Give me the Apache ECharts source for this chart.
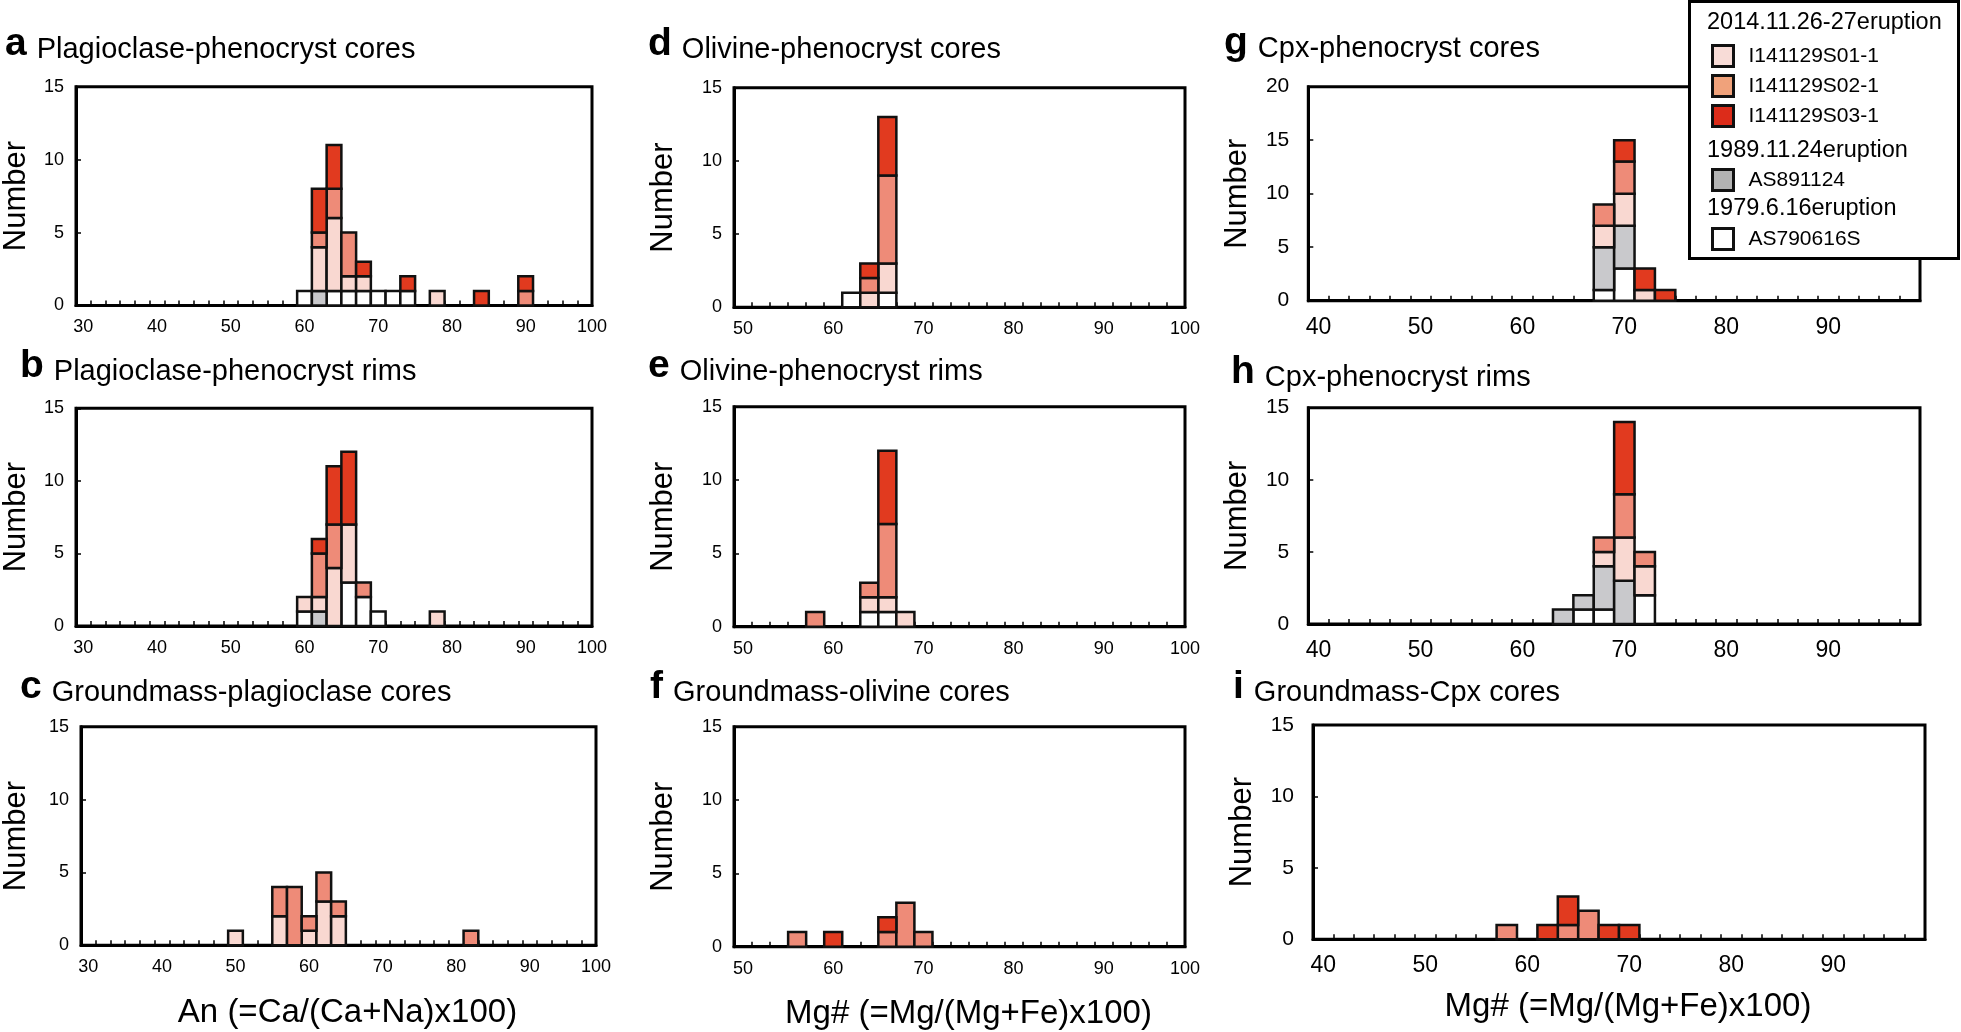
<!DOCTYPE html>
<html><head><meta charset="utf-8">
<script src="https://cdn.jsdelivr.net/npm/echarts@6/dist/echarts.min.js"></script>
<style>html,body{margin:0;padding:0;background:#fff}#c{width:1961px;height:1032px}</style>
</head><body><div id="c"></div><script>
const FONT = '"Liberation Sans", Helvetica, Arial, sans-serif';

// stacking order bottom -> top
const samples = ['AS790616S', 'AS891124', 'I141129S01-1', 'I141129S02-1', 'I141129S03-1'];
const sampleColors = ['#ffffff', '#c9c9cc', '#f9d8d1', '#ee8b78', '#e13a1f'];
const legendColors = ['#ffffff', '#b3b3b3', '#f8dcd7', '#f0a27b', '#dc2c1a'];
const BIN_WIDTH = 2;

// rows: [bin centre, AS790616S, AS891124, I141129S01-1, I141129S02-1, I141129S03-1]
const plagPhenoCores = [
  [60, 1, 0, 0, 0, 0], [62, 0, 1, 3, 1, 3], [64, 1, 0, 5, 2, 3], [66, 1, 0, 1, 3, 0],
  [68, 1, 0, 1, 0, 1], [70, 1, 0, 0, 0, 0], [72, 1, 0, 0, 0, 0], [74, 1, 0, 0, 0, 1],
  [78, 0, 0, 1, 0, 0], [84, 0, 0, 0, 0, 1], [90, 0, 0, 0, 1, 1]
];
const plagPhenoRims = [
  [60, 1, 0, 1, 0, 0], [62, 0, 1, 1, 3, 1], [64, 0, 0, 4, 3, 4], [66, 3, 0, 4, 0, 5],
  [68, 2, 0, 0, 1, 0], [70, 1, 0, 0, 0, 0], [78, 0, 0, 1, 0, 0]
];
const gmPlagCores = [
  [50, 0, 0, 1, 0, 0], [56, 0, 0, 2, 2, 0], [58, 0, 0, 0, 4, 0], [60, 0, 0, 1, 1, 0],
  [62, 0, 0, 3, 2, 0], [64, 0, 0, 2, 1, 0], [82, 0, 0, 0, 1, 0]
];
const olPhenoCores = [
  [62, 1, 0, 0, 0, 0], [64, 0, 0, 1, 1, 1], [66, 1, 0, 2, 6, 4]
];
const olPhenoRims = [
  [58, 0, 0, 0, 1, 0], [64, 1, 0, 1, 1, 0], [66, 1, 0, 1, 5, 5], [68, 0, 0, 1, 0, 0]
];
const gmOlCores = [
  [56, 0, 0, 0, 1, 0], [60, 0, 0, 0, 0, 1], [66, 0, 0, 0, 1, 1], [68, 0, 0, 0, 3, 0], [70, 0, 0, 0, 1, 0]
];
const cpxPhenoCores = [
  [68, 1, 4, 2, 2, 0], [70, 3, 4, 3, 3, 2], [72, 0, 0, 1, 0, 2], [74, 0, 0, 0, 0, 1]
];
const cpxPhenoRims = [
  [64, 0, 1, 0, 0, 0], [66, 1, 1, 0, 0, 0], [68, 1, 3, 1, 1, 0], [70, 0, 3, 3, 3, 5], [72, 2, 0, 2, 1, 0]
];
const gmCpxCores = [
  [58, 0, 0, 0, 1, 0], [62, 0, 0, 0, 0, 1], [64, 0, 0, 0, 1, 2], [66, 0, 0, 0, 2, 0],
  [68, 0, 0, 0, 0, 1], [70, 0, 0, 0, 0, 1]
];

const xLabelsAn = [30, 40, 50, 60, 70, 80, 90, 100];
const xLabelsOl = [50, 60, 70, 80, 90, 100];
const xLabelsCpx = [40, 50, 60, 70, 80, 90];
const yMaxes = [15, 15, 15, 15, 15, 15, 20, 15, 15];

const panels = [
  {letter: 'a', title: 'Plagioclase-phenocryst cores', rows: plagPhenoCores, xMin: 29, xMax: 99, xLabels: xLabelsAn,
   grid: [73.3, 86.7, 518.7, 218.8], tpos: [5, 25], nameGap: 44},
  {letter: 'b', title: 'Plagioclase-phenocryst rims', rows: plagPhenoRims, xMin: 29, xMax: 99, xLabels: xLabelsAn,
   grid: [73.3, 408.3, 518.7, 217.7], tpos: [20, 347], nameGap: 44},
  {letter: 'c', title: 'Groundmass-plagioclase cores', rows: gmPlagCores, xMin: 29, xMax: 99, xLabels: xLabelsAn,
   grid: [78.3, 726.7, 517.7, 218.6], tpos: [20, 668], nameGap: 49, xName: 'An (=Ca/(Ca+Na)x100)'},
  {letter: 'd', title: 'Olivine-phenocryst cores', rows: olPhenoCores, xMin: 49, xMax: 99, xLabels: xLabelsOl,
   grid: [734, 87.7, 451, 219.6], tpos: [648, 25], nameGap: 55},
  {letter: 'e', title: 'Olivine-phenocryst rims', rows: olPhenoRims, xMin: 49, xMax: 99, xLabels: xLabelsOl,
   grid: [734, 406.7, 451, 220], tpos: [648, 347], nameGap: 55},
  {letter: 'f', title: 'Groundmass-olivine cores', rows: gmOlCores, xMin: 49, xMax: 99, xLabels: xLabelsOl,
   grid: [734, 726.7, 451, 220], tpos: [650, 668], nameGap: 55, xName: 'Mg# (=Mg/(Mg+Fe)x100)'},
  {letter: 'g', title: 'Cpx-phenocryst cores', rows: cpxPhenoCores, xMin: 39, xMax: 99, xLabels: xLabelsCpx,
   grid: [1308.3, 86.7, 611.7, 214], tpos: [1224, 24], nameGap: 55, big: true},
  {letter: 'h', title: 'Cpx-phenocryst rims', rows: cpxPhenoRims, xMin: 39, xMax: 99, xLabels: xLabelsCpx,
   grid: [1308.3, 407.7, 611.7, 216.3], tpos: [1231, 353], nameGap: 55, big: true},
  {letter: 'i', title: 'Groundmass-Cpx cores', rows: gmCpxCores, xMin: 39, xMax: 99, xLabels: xLabelsCpx,
   grid: [1313, 725, 612, 214.3], tpos: [1233, 668], nameGap: 55, big: true, xName: 'Mg# (=Mg/(Mg+Fe)x100)'}
];

function oddTicks(lo, hi) {
  const out = [];
  for (let v = lo + 2; v < hi; v += 2) out.push(v);
  return out;
}

function renderBar(params, api) {
  const x = api.value(0), y0 = api.value(1), y1 = api.value(2);
  const p0 = api.coord([x - BIN_WIDTH / 2, y1]);
  const p1 = api.coord([x + BIN_WIDTH / 2, y0]);
  return {
    type: 'rect',
    shape: {x: p0[0], y: p0[1], width: p1[0] - p0[0], height: p1[1] - p0[1]},
    style: {fill: api.visual('color'), stroke: '#111', lineWidth: 2.5}
  };
}

const grids = [], xAxes = [], yAxes = [], series = [], titles = [];
panels.forEach((p, i) => {
  grids.push({left: p.grid[0], top: p.grid[1], width: p.grid[2], height: p.grid[3],
    show: true, borderColor: '#000', borderWidth: 3, backgroundColor: 'transparent'});
  const labelVals = p.xLabels.map(v => Math.min(v, p.xMax));
  xAxes.push({
    type: 'value', gridIndex: i, min: p.xMin, max: p.xMax,
    axisLine: {show: true, lineStyle: {color: '#000', width: 3}},
    axisTick: {show: true, inside: true, length: 5, customValues: oddTicks(p.xMin, p.xMax), lineStyle: {color: '#000', width: 1.5}},
    splitLine: {show: false},
    axisLabel: {customValues: labelVals, fontFamily: FONT, fontSize: p.big ? 23 : 18, color: '#000', margin: p.big ? 15 : 13,
      formatter: (v) => (v >= p.xMax ? String(p.xLabels[p.xLabels.length - 1]) : String(v))},
    name: p.xName || '', nameLocation: 'middle', nameGap: 51,
    nameTextStyle: {fontFamily: FONT, fontSize: 33, color: '#000', padding: [0, 0, 0, 18]}
  });
  const ymax = yMaxes[i];
  yAxes.push({
    type: 'value', gridIndex: i, min: 0, max: ymax, interval: 5,
    axisLine: {show: true, lineStyle: {color: '#000', width: 3}},
    axisTick: {show: true, inside: true, length: 5, lineStyle: {color: '#000', width: 1.5}},
    splitLine: {show: false},
    axisLabel: {fontFamily: FONT, fontSize: p.big ? 21 : 18, color: '#000', margin: p.big ? 19 : 12},
    name: 'Number', nameLocation: 'middle', nameRotate: 90, nameGap: p.nameGap,
    nameTextStyle: {fontFamily: FONT, fontSize: 31, color: '#000'}
  });
  titles.push({
    text: '{l|' + p.letter + '}{t|' + p.title + '}',
    left: p.tpos[0], top: p.tpos[1], padding: 0,
    textStyle: {fontWeight: 'normal', rich: {
      l: {fontFamily: FONT, fontSize: 39, fontWeight: 'bold', color: '#000', verticalAlign: 'bottom'},
      t: {fontFamily: FONT, fontSize: 29, fontWeight: 'normal', color: '#000', padding: [0, 0, 0, 10], verticalAlign: 'bottom'}
    }}
  });
  samples.forEach((name, k) => {
    const data = [];
    p.rows.forEach(r => {
      const count = r[k + 1];
      if (count > 0) {
        let base = 0;
        for (let j = 1; j <= k; j++) base += r[j];
        data.push([r[0], base, base + count]);
      }
    });
    series.push({
      type: 'custom', name: name, xAxisIndex: i, yAxisIndex: i,
      itemStyle: {color: sampleColors[k]},
      renderItem: renderBar, data: data, z: 3,
      encode: {x: 0, y: [1, 2]}
    });
  });
});

const legendBase = {
  orient: 'vertical', left: 1711, itemWidth: 21, itemHeight: 21, itemGap: 6, padding: 0, z: 12,
  icon: 'rect', selectedMode: false,
  itemStyle: {borderColor: '#111', borderWidth: 3},
  textStyle: {fontFamily: FONT, fontSize: 21, lineHeight: 21, color: '#000', padding: [0, 0, 0, 10]}
};
const legendItem = (k) => ({name: samples[k], itemStyle: {color: legendColors[k]}});
const legends = [
  Object.assign({}, legendBase, {top: 44, data: [legendItem(2), legendItem(3), legendItem(4)]}),
  Object.assign({}, legendBase, {top: 168, data: [legendItem(1)]}),
  Object.assign({}, legendBase, {top: 227, data: [legendItem(0)]})
];
const legendHeadings = ['2014.11.26-27eruption', '1989.11.24eruption', '1979.6.16eruption'];
const headingY = [23, 151, 209];

const chart = echarts.init(document.getElementById('c'), null, {renderer: 'canvas'});
chart.setOption({
  backgroundColor: '#fff',
  animation: false,
  title: titles,
  grid: grids,
  xAxis: xAxes,
  yAxis: yAxes,
  series: series,
  legend: legends,
  graphic: {elements: [
    {type: 'rect', z: 10, shape: {x: 1689.5, y: 1.5, width: 269, height: 257},
     style: {fill: '#fff', stroke: '#000', lineWidth: 3}},
  ].concat(legendHeadings.map((t, j) => ({
    type: 'text', z: 12, x: 1707, y: headingY[j],
    style: {text: t, fontFamily: FONT, fontSize: 23.5, fill: '#000', verticalAlign: 'middle', align: 'left'}
  })))}
});
</script></body></html>
